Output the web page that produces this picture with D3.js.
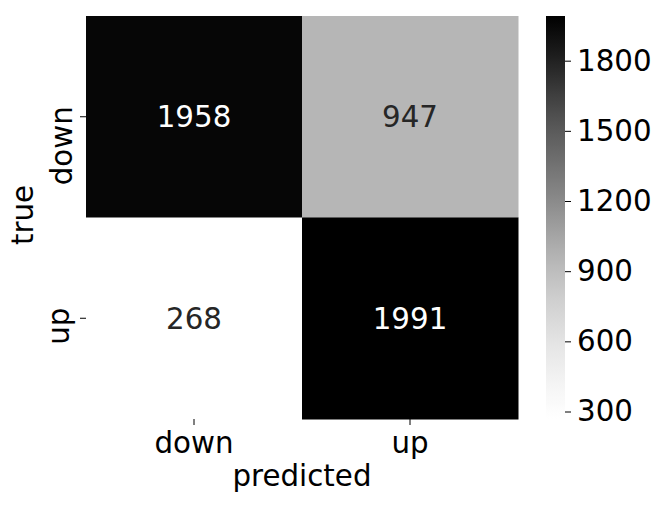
<!DOCTYPE html>
<html>
<head>
<meta charset="utf-8">
<script src="https://cdn.jsdelivr.net/npm/d3@7"></script>
<style>
html,body{margin:0;padding:0;background:#fff;}
svg{display:block;font-family:"DejaVu Sans",sans-serif;}
</style>
</head>
<body>
<svg id="chart" width="664" height="505"></svg>
<script>
const predictedLabels = ["down", "up"];
const trueLabels = ["down", "up"];
const values = [
  [1958, 947],
  [268, 1991]
];
const colorbarTicks = [300, 600, 900, 1200, 1500, 1800];
const xTitle = "predicted";
const yTitle = "true";

const svg = d3.select("#chart");
const fs = 29.3;

const flat = values.flat();
const vmin = d3.min(flat), vmax = d3.max(flat);
const color = d3.scaleSequential(d3.interpolateGreys).domain([vmin, vmax]);

const x = d3.scaleBand().domain(predictedLabels).range([86, 518]);
const y = d3.scaleBand().domain(trueLabels).range([16, 419]);

const cells = [];
trueLabels.forEach((t, i) => predictedLabels.forEach((p, j) => cells.push({t, p, v: values[i][j]})));

svg.append("g").selectAll("rect").data(cells).join("rect")
  .attr("x", d => x(d.p)).attr("y", d => y(d.t))
  .attr("width", x.bandwidth() + 0.5).attr("height", y.bandwidth() + 0.5)
  .attr("fill", d => color(d.v));

function textColor(v) {
  const c = d3.rgb(color(v));
  const lum = [c.r, c.g, c.b].map(u => { u /= 255; return u <= 0.03928 ? u / 12.92 : Math.pow((u + 0.055) / 1.055, 2.4); });
  const L = 0.2126 * lum[0] + 0.7152 * lum[1] + 0.0722 * lum[2];
  return L > 0.408 ? "#262626" : "#ffffff";
}

svg.append("g").selectAll("text").data(cells).join("text")
  .attr("x", d => x(d.p) + x.bandwidth() / 2)
  .attr("y", d => y(d.t) + y.bandwidth() / 2 + 10.5)
  .attr("text-anchor", "middle")
  .attr("font-size", fs)
  .attr("fill", d => textColor(d.v))
  .text(d => d.v);

// x axis ticks
const xg = svg.append("g");
predictedLabels.forEach(l => {
  const cx = x(l) + x.bandwidth() / 2;
  xg.append("line").attr("x1", cx).attr("x2", cx).attr("y1", 419).attr("y2", 425).attr("stroke", "#000").attr("stroke-width", 1);
  xg.append("text").attr("x", cx).attr("y", 453).attr("text-anchor", "middle").attr("font-size", fs).attr("fill", "#000").text(l);
});

// y axis ticks
const yg = svg.append("g");
const yLabelOffset = {"down": 29, "up": 8};
const yLabelBase = {"down": 72, "up": 69};
trueLabels.forEach(l => {
  const cy = y(l) + y.bandwidth() / 2;
  yg.append("line").attr("x1", 80).attr("x2", 86).attr("y1", cy).attr("y2", cy).attr("stroke", "#000").attr("stroke-width", 1);
  const ty = cy + yLabelOffset[l];
  yg.append("text").attr("transform", `translate(${yLabelBase[l]},${ty}) rotate(-90)`)
    .attr("text-anchor", "middle").attr("font-size", fs).attr("fill", "#000").text(l);
});

// titles
svg.append("text").attr("x", 302).attr("y", 486).attr("text-anchor", "middle").attr("font-size", fs).attr("fill", "#000").text(xTitle);
svg.append("text").attr("transform", "translate(33,215) rotate(-90)").attr("text-anchor", "middle").attr("font-size", fs).attr("fill", "#000").text(yTitle);

// colorbar
const cbX = 546, cbW = 19;
const cbScale = d3.scaleLinear().domain([vmin, vmax]).range([419, 16]);
const defs = svg.append("defs");
const grad = defs.append("linearGradient").attr("id", "cbgrad").attr("x1", "0").attr("y1", "1").attr("x2", "0").attr("y2", "0");
d3.range(0, 1.0001, 0.02).forEach(t => {
  grad.append("stop").attr("offset", t).attr("stop-color", d3.interpolateGreys(t));
});
svg.append("rect").attr("x", cbX).attr("y", 16).attr("width", cbW).attr("height", 403).attr("fill", "url(#cbgrad)");
const cbAxis = d3.axisRight(cbScale).tickValues(colorbarTicks).tickFormat(d3.format("d")).tickSize(6).tickPadding(6);
const cbg = svg.append("g").attr("transform", `translate(${cbX + cbW},0)`).call(cbAxis);
cbg.select(".domain").remove();
cbg.selectAll("text").attr("font-size", fs).attr("font-family", "DejaVu Sans").attr("fill", "#000");
cbg.selectAll("line").attr("stroke", "#000");
</script>
</body>
</html>
